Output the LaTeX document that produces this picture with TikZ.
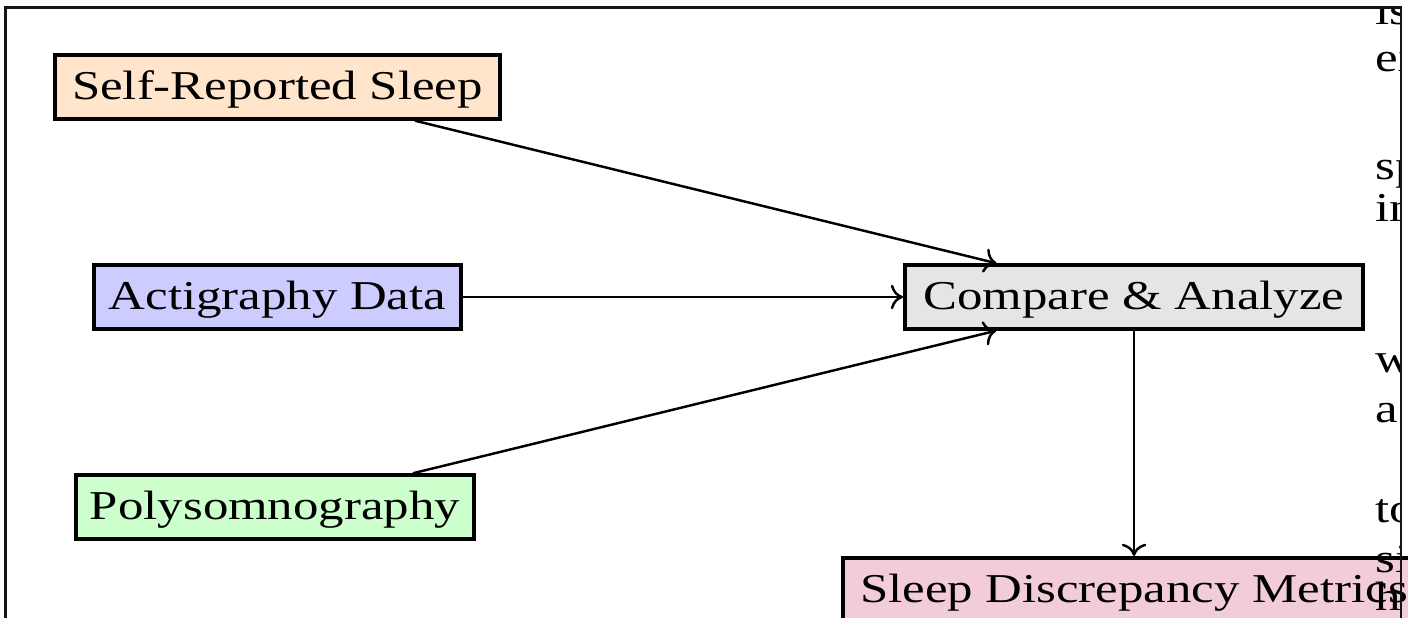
\documentclass[tikz,border=0pt]{standalone}
\usepackage{fontspec}
\setmainfont{Liberation Serif}[FakeStretch=1.24]
\usetikzlibrary{arrows.meta}
\definecolor{framegray}{RGB}{20,20,20}
\tikzset{
  box/.style={draw=black, line width=0.95pt, inner xsep=3.33pt, inner ysep=3pt,
    text height=7.8pt, text depth=1.7pt, font=\fontsize{10pt}{12pt}\selectfont},
  flow/.style={line width=0.6pt, -{Computer Modern Rightarrow[length=3pt,width=6pt]}},
  frag/.style={inner sep=0pt, anchor=base west, font=\fontsize{10pt}{12pt}\selectfont},
  frameline/.style={line width=0.5pt, draw=framegray}
}
\begin{document}
\begin{tikzpicture}[x=0.2439pt, y=-0.2439pt]
\useasboundingbox (0,0) rectangle (1408,618);

\node[box, fill=orange!20, minimum width=108.5pt] (self) at (277.5,87) {Self-Reported Sleep};
\node[box, fill=blue!20, minimum width=89.5pt] (acti) at (277.5,297) {Actigraphy Data};
\node[box, fill=green!20, minimum width=96.6pt] (poly) at (275,507) {Polysomnography};
\node[box, fill=gray!20, minimum width=111.7pt] (comp) at (1134,297) {Compare \& Analyze};
\node[box, fill=purple!20, minimum width=141.9pt, anchor=north] (disc) at (1134,556) {Sleep Discrepancy Metrics};

\draw[flow] (self) -- (comp);
\draw[flow] (acti) -- (comp);
\draw[flow] (poly) -- (comp);
\draw[flow] (comp) -- (disc);

\begin{scope}
  \clip (5.5,7.5) rectangle (1400,618);
  \node[frag] (f1) at (1375,25) {is};
  \node[frag] (f2) at (1375,72) {ex};
  \node[frag] (f3) at (1375,180) {sp};
  \node[frag] (f4) at (1375,222) {in};
  \node[frag] (f5) at (1375,373) {w};
  \node[frag] (f6) at (1375,423) {ac};
  \node[frag] (f7) at (1375,523) {to};
  \node[frag] (f8) at (1375,573) {si};
  \node[frag] (f9) at (1375,611) {h};
\end{scope}

\coordinate (fbl) at (5.5,618);
\coordinate (ftl) at (5.5,7.5);
\coordinate (ftr) at (1401,7.5);
\coordinate (fbr) at (1401,618);
\draw[frameline] (fbl) -- (ftl) -- (ftr) -- (fbr);
\end{tikzpicture}
\end{document}
